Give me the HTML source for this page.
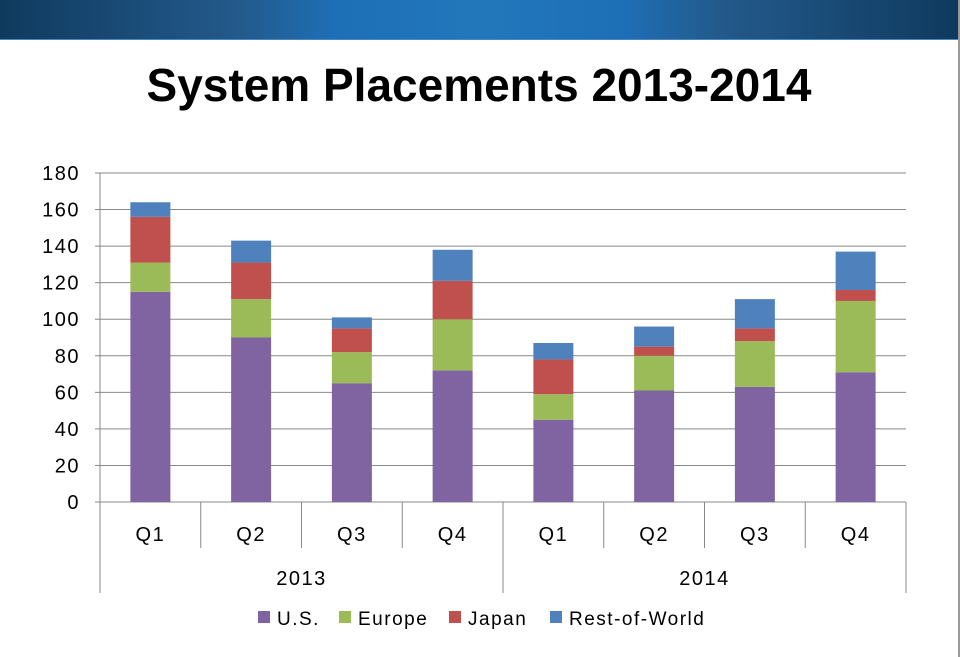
<!DOCTYPE html>
<html><head><meta charset="utf-8"><style>
body{margin:0;width:960px;height:657px;background:#fff;overflow:hidden;font-family:"Liberation Sans",sans-serif;position:relative}
#hdr{position:absolute;left:0;top:0;width:958px;height:39px;background:linear-gradient(90deg,#0f3a5e 0%,#235a8c 25%,#1e6fb6 35%,#2277bb 50%,#1e6fb6 65%,#235a8c 75%,#0f3a5e 100%);border-bottom:1px solid #4a86c0}
#edge{position:absolute;left:958px;top:0;width:2px;height:657px;background:#999}
#title{position:absolute;left:0;width:958px;top:58px;text-align:center;font-size:46px;font-weight:bold;color:#000}
text{letter-spacing:1.5px}
</style></head><body>
<div id="hdr"></div>
<div id="edge"></div>
<div id="title">System Placements 2013-2014</div>
<svg id="chart" width="960" height="657" style="position:absolute;left:0;top:0"></svg>
<script>
const categories=["Q1","Q2","Q3","Q4","Q1","Q2","Q3","Q4"];
const years=["2013","2014"];
const seriesNames=["U.S.","Europe","Japan","Rest-of-World"];
const us=[115,90,65,72,45,61,63,71];
const europe=[16,21,17,28,14,19,25,39];
const japan=[25,20,13,21,19,5,7,6];
const row=[8,12,6,17,9,11,16,21];
const yTicks=[0,20,40,60,80,100,120,140,160,180];
const colors=["#8064a2","#9bbb59","#c0504d","#4f81bd"];
const NS="http://www.w3.org/2000/svg";
const svg=document.getElementById('chart');
const x0=100,x1=906,yb=502,yt=173,yMax=180;
const bw=(x1-x0)/categories.length;
const Y=v=>yb-(v/yMax)*(yb-yt);
const X=i=>x0+bw*(i+0.5);
function mk(t,a){const e=document.createElementNS(NS,t);for(const k in a)e.setAttribute(k,a[k]);svg.appendChild(e);return e;}
yTicks.forEach(v=>{
  const l=mk('line',{x1:x0,x2:x1,y1:Y(v),y2:Y(v),stroke:'#888','stroke-width':1});
  
  
  mk('line',{x1:x0-5,x2:x0,y1:Y(v),y2:Y(v),stroke:'#888'});
  const t=mk('text',{x:x0-20,y:Y(v)+7,'text-anchor':'end','font-size':20,fill:'#000'});
  t.textContent=v;
  
  
});
mk('line',{x1:x0,x2:x0,y1:yt,y2:593,stroke:'#888'});
const series=[us,europe,japan,row];
categories.forEach((c,i)=>{
  let acc=0;
  series.forEach((s,k)=>{
    const r=mk('rect',{x:X(i)-20,width:40,y:Y(acc+s[i]),height:Y(acc)-Y(acc+s[i]),fill:colors[k]});
    
    
    acc+=s[i];
  });
  const bx=x0+bw*(i+1);
  mk('line',{x1:bx,x2:bx,y1:yb,y2:(i===3||i===7)?593:548,stroke:'#888'});
  const t=mk('text',{x:X(i),y:541,'text-anchor':'middle','font-size':20});
  t.textContent=c;
  
  
});
years.forEach((y,j)=>{
  const t=mk('text',{x:x0+bw*(j*4+2),y:585,'text-anchor':'middle','font-size':20});
  t.textContent=y;
  
  
});
const lx=[258,339,449,550];
seriesNames.forEach((n,k)=>{
  const r=mk('rect',{x:lx[k],y:611,width:12,height:12,fill:colors[k]});
  
  
  const t=mk('text',{x:lx[k]+19,y:625,'font-size':19});
  t.textContent=n;
  
  
});
</script>
</body></html>
